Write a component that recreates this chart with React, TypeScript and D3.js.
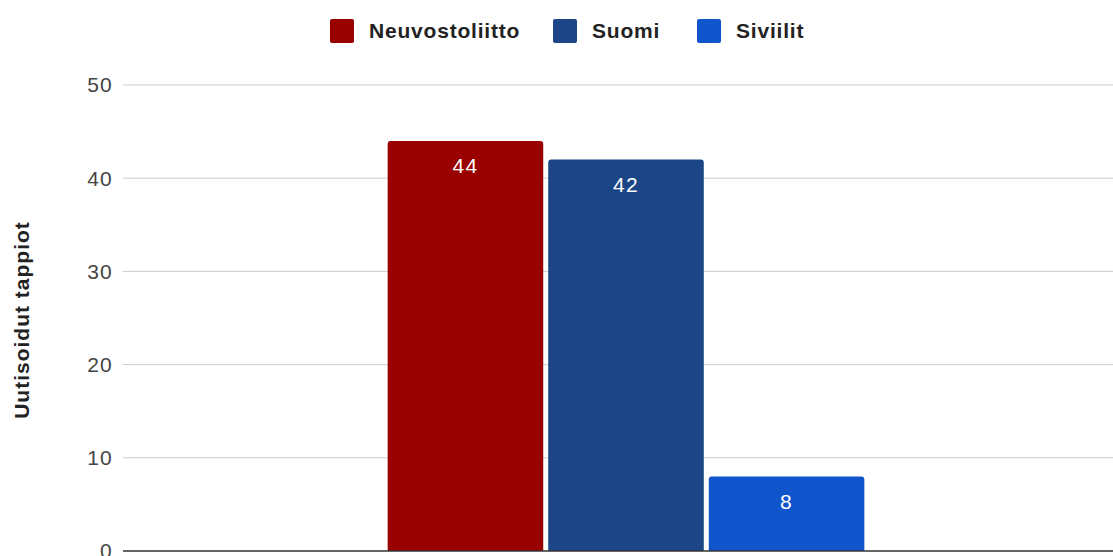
import React from 'react';
import * as d3 from 'd3';

const categories = ['Tappiot'];
const seriesNames = ['Neuvostoliitto', 'Suomi', 'Siviilit'];
const seriesValues = [44, 42, 8];
const seriesColors = ['#990000', '#1c4587', '#1155cc'];
const yTicks = [0, 10, 20, 30, 40, 50];
const yTitle = 'Uutisoidut tappiot';

const W = 1113;
const H = 556;

// rounded-top bar path
const barPath = (x: number, y: number, w: number, h: number, r: number) =>
  `M${x},${y + h}V${y + r}Q${x},${y} ${x + r},${y}H${x + w - r}Q${x + w},${y} ${x + w},${y + r}V${y + h}Z`;

const App: React.FC = () => {
  const font = '"Liberation Sans", Arial, sans-serif';
  const y = d3.scaleLinear().domain([0, 50]).range([551, 85]);
  const x0 = d3.scaleBand().domain(categories).range([123, 1129]).padding(0.357);
  const x1 = d3
    .scaleBand()
    .domain(seriesNames)
    .range([0, x0.bandwidth()])
    .paddingInner(0.031);

  // legend layout: square + label
  const legendX = [330, 553, 697];

  return (
    <svg
      width={W}
      height={H}
      style={{ position: 'absolute', left: 0, top: 0, background: '#fff' }}
    >
      {/* gridlines */}
      {yTicks.map((t) => (
        <g key={t}>
          {t > 0 && (
            <line x1={123} x2={W} y1={y(t)} y2={y(t)} stroke="#cccccc" strokeWidth={1} />
          )}
          <text
            x={113}
            y={y(t)}
            dy="0.35em"
            textAnchor="end"
            fontFamily={font}
            fontSize={21}
            letterSpacing={1.2}
            fill="#444444"
          >
            {t}
          </text>
        </g>
      ))}

      {/* bars */}
      {categories.map((c) => (
        <g key={c} transform={`translate(${x0(c)},0)`}>
          {seriesNames.map((s, i) => {
            const bx = x1(s)!;
            const by = y(seriesValues[i]);
            const bh = y(0) - by;
            return (
              <g key={s}>
                <path d={barPath(bx, by, x1.bandwidth(), bh, 3)} fill={seriesColors[i]} />
                <text
                  x={bx + x1.bandwidth() / 2}
                  y={by + 25}
                  dy="0.35em"
                  textAnchor="middle"
                  fontFamily={font}
                  fontSize={21}
                  letterSpacing={1.2}
                  fill="#ffffff"
                >
                  {seriesValues[i]}
                </text>
              </g>
            );
          })}
        </g>
      ))}

      {/* baseline */}
      <line x1={123} x2={W} y1={y(0)} y2={y(0)} stroke="#333333" strokeWidth={1.5} />

      {/* y title */}
      <text
        transform={`translate(29,320) rotate(-90)`}
        textAnchor="middle"
        fontFamily={font}
        fontSize={21}
        letterSpacing={1}
        fontWeight="bold"
        fill="#222222"
      >
        {yTitle}
      </text>

      {/* legend */}
      {seriesNames.map((s, i) => (
        <g key={s} transform={`translate(${legendX[i]},19)`}>
          <rect width={24} height={24} rx={2} fill={seriesColors[i]} />
          <text
            x={39}
            y={12}
            dy="0.35em"
            fontFamily={font}
            fontSize={21}
            letterSpacing={0.8}
            fontWeight="bold"
            fill="#222222"
          >
            {s}
          </text>
        </g>
      ))}
    </svg>
  );
};

export default App;
